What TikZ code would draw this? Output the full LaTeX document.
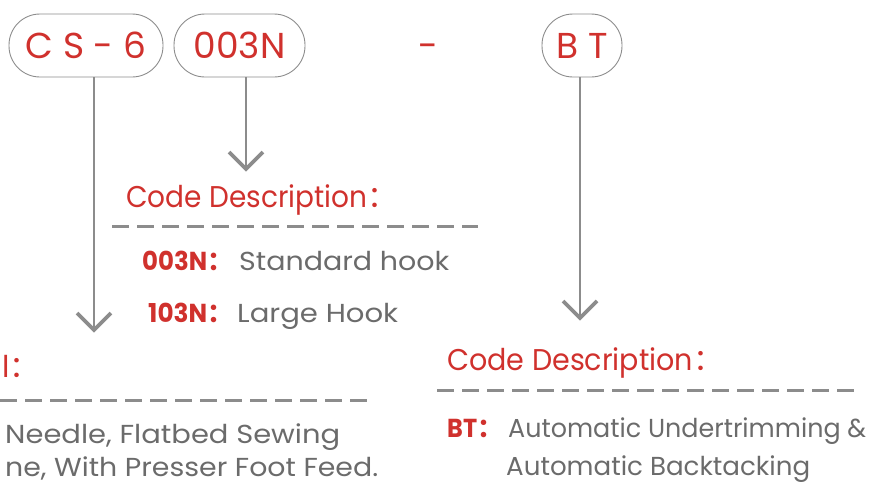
\documentclass[tikz,border=0pt]{standalone}
\usepackage{fontspec}
\usepackage{graphicx}
\setmainfont{Poppins}
\newfontfamily\cjk{Noto Sans CJK SC}
\usetikzlibrary{calc}
\definecolor{cred}{HTML}{D0312D}
\definecolor{cgray}{HTML}{6B6B6B}
\definecolor{lgray}{HTML}{8C8C8C}
\newcommand\fcol{{\cjk ：}}
\newcommand\fitw[2]{\resizebox{#1}{\height}{#2}}
\begin{document}
\begin{tikzpicture}[x=1pt,y=-1pt,
 pill/.style={draw=lgray, line width=0.9pt, rounded corners=31pt, inner sep=0pt, text=cred, font=\fontsize{36}{40}\selectfont},
 conn/.style={draw=lgray, line width=1.6pt},
 chev/.style={draw=lgray, line width=3.6pt, line join=miter},
 sepline/.style={draw=lgray, line width=3pt, dash pattern=on 17pt off 8pt},
 head/.style={anchor=base west, inner sep=0pt, text=cred, font=\fontsize{30}{34}\selectfont},
 code/.style={anchor=base west, inner sep=0pt, text=cred, font=\bfseries\fontsize{26}{30}\selectfont},
 desc/.style={anchor=base west, inner sep=0pt, text=cgray, font=\fontsize{26}{30}\selectfont}]
\useasboundingbox (0,0) rectangle (871,485);
% pills
\node[pill, minimum width=154pt, minimum height=63pt] (p1) at (86,45.5) {C S - 6};
\node[pill, minimum width=131pt, minimum height=63pt] (p2) at (239.5,45.5) {003N};
\node[pill, minimum width=80pt, minimum height=63pt] (p3) at (582,45.5) {B T};
\node[anchor=base, text=cred, inner sep=0pt, font=\fontsize{36}{40}\selectfont] (hy) at (428,58) {-};
% connectors
\coordinate (t1) at (94,330);
\coordinate (t2) at (246,169);
\coordinate (t3) at (580,318);
\draw[conn] (t1 |- p1.south) -- (t1);
\draw[conn] (t2 |- p2.south) -- (t2);
\draw[conn] (t3 |- p3.south) -- (t3);
\foreach \t in {t1,t2,t3}
  \draw[chev] ($(\t)+(-17,-17)$) -- (\t) -- ($(\t)+(17,-17)$);
% middle block
\node[head] (h1) at (126,207) {\fitw{241pt}{Code Description}\fcol};
\draw[sepline] (112,226) -- (478,226);
\node[code] (c1) at (142,270) {\fitw{65pt}{003N}\fcol};
\node[desc] (d1) at (239,270) {\fitw{210pt}{Standard hook}};
\node[code] (c2) at (148,322) {\fitw{59pt}{103N}\fcol};
\node[desc] (d2) at (237,322) {\fitw{161pt}{Large Hook}};
% right block
\node[head] (h2) at (447,370) {\fitw{246pt}{Code Description}\fcol};
\draw[sepline] (437,390) -- (856,390);
\node[code] (c3) at (447,437) {\fitw{30pt}{BT}\fcol};
\node[desc] (d3) at (508,437) {\fitw{358pt}{Automatic Undertrimming \&}};
\node[desc] (d4) at (506,475) {\fitw{304pt}{Automatic Backtacking}};
% left block (cut off at the picture's edge)
\node[head] (h0) at (2,377) {l\fcol};
\draw[sepline] (0,400) -- (371,400);
\node[desc] (d5) at (5,443) {\fitw{335pt}{Needle, Flatbed Sewing}};
\node[desc] (d6) at (5,476) {\fitw{373pt}{ne, With Presser Foot Feed.}};
\end{tikzpicture}
\end{document}
